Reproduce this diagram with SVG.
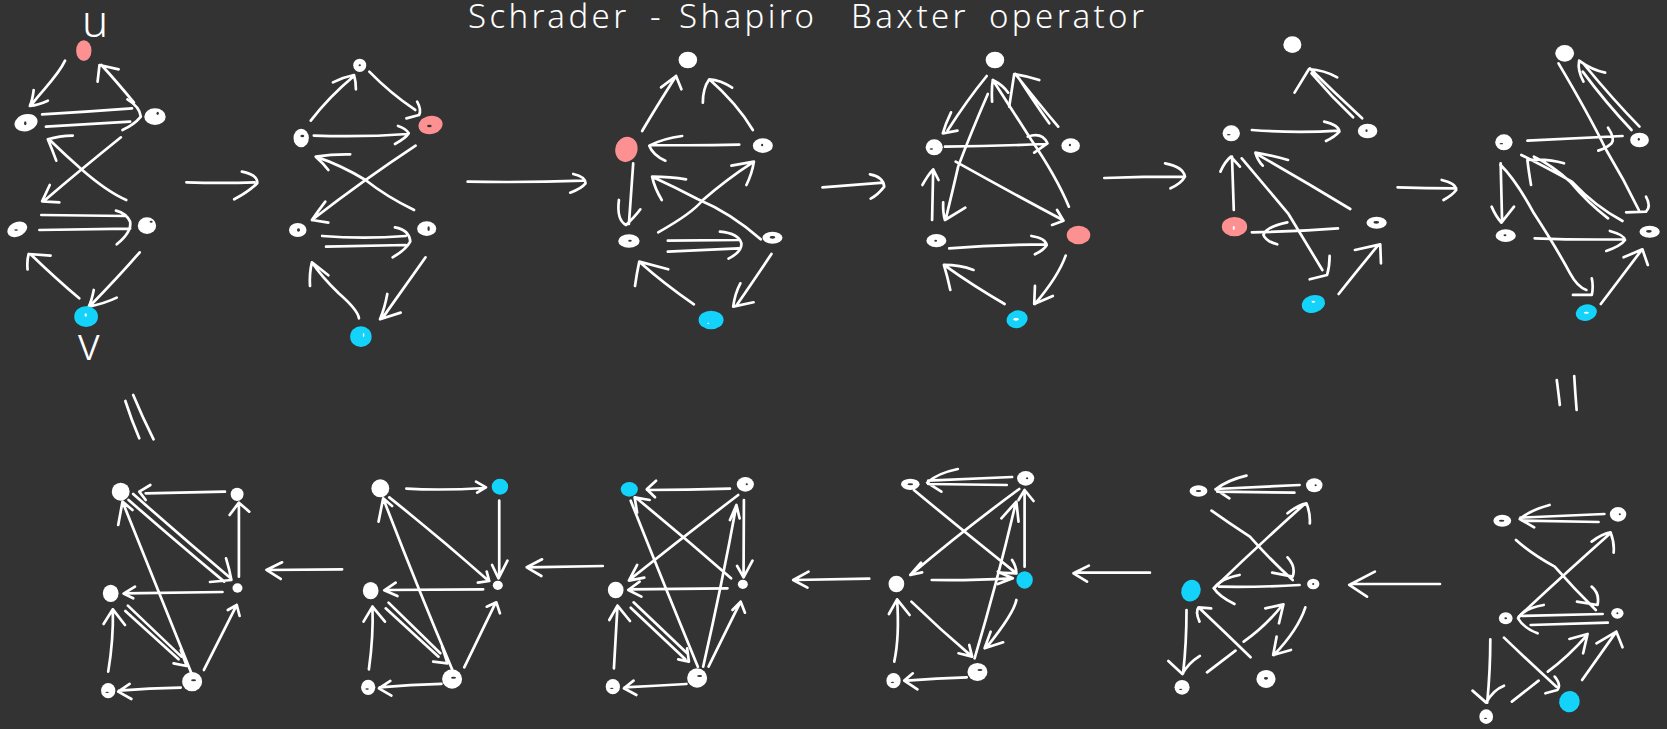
<svg xmlns="http://www.w3.org/2000/svg" width="1667" height="729" viewBox="0 0 1667 729">
<style>
.c path{fill:none;stroke:#fff;stroke-width:2.7;stroke-linecap:round;stroke-linejoin:round;vector-effect:non-scaling-stroke}
.n{fill:#fff}.p{fill:#fd9090}.b{fill:#14d3fb}.h{fill:#333}.s{fill:#fff}
.t{font-family:"Noto Sans","Liberation Sans",sans-serif;font-weight:300;fill:#fff}
</style>
<rect width="1667" height="729" fill="#333"/>
<text class="t" y="28" font-size="33" letter-spacing="3.4"><tspan x="468">Schrader</tspan> <tspan x="650">-</tspan> <tspan x="679">Shapiro</tspan> <tspan x="851">Baxter</tspan> <tspan x="989">operator</tspan></text>
<text class="t" x="82" y="37" font-size="44">u</text>
<text class="t" x="78" y="360" font-size="46">v</text>

<g id="p1" transform="scale(.3827,.3333)">
<g id="p1-connectors" class="c">
<path d="M170 182C150 230 115 265 85 310M88 270Q85 300 78 318Q100 315 125 302"/>
<path d="M350 308Q305 245 265 195M255 245L260 195L310 208"/>
<path d="M110 343Q230 335 345 325M120 380Q230 372 340 365M333 298Q365 320 368 350Q350 375 320 390"/>
<path d="M316 412Q210 510 118 600M130 555L110 604L155 607"/>
<path d="M330 600Q280 575 215 510Q170 465 128 418M147 482Q135 445 125 418Q155 408 190 407"/>
<path d="M108 645L330 648M103 690L340 686M303 632Q330 640 340 665Q345 695 305 733"/>
<path d="M207 895Q150 840 82 765M72 808Q70 780 75 762L132 767"/>
<path d="M365 757Q310 830 235 918M245 870Q240 900 232 920Q275 910 305 893"/>
<path d="M487 547Q580 550 665 547M632 515Q675 525 672 550Q650 575 612 598"/>
<path d="M812 362Q860 290 925 228M870 247Q895 232 925 225Q930 245 930 268"/>
<path d="M965 215Q1020 280 1085 330M1090 305Q1102 330 1095 345L1062 355"/>
<path d="M820 407Q950 412 1065 402M1040 378Q1060 385 1068 400Q1060 415 1032 432"/>
<path d="M1086 437Q950 540 815 660M850 605Q830 635 815 660L858 668"/>
<path d="M1082 630Q1010 590 955 540Q890 495 825 470M858 510Q845 490 825 470Q870 462 915 463"/>
<path d="M842 708Q950 718 1060 708M852 740L1060 735M1032 682Q1070 690 1072 725Q1060 750 1026 772"/>
<path d="M938 955Q935 930 885 880Q840 830 815 787M810 858Q808 820 815 787L858 826"/>
<path d="M1112 772L1002 950M1012 882Q1005 925 993 958L1047 938"/>
<path d="M1222 545Q1370 548 1525 542M1498 522Q1530 530 1530 550Q1520 565 1490 578"/>
</g>
<g id="p1-u"><ellipse class="p" cx="219" cy="152" rx="20" ry="31"/></g>
<g id="p1-a"><ellipse class="n" cx="68" cy="368" rx="31" ry="25" transform="rotate(-25 68 368)"/><ellipse class="h" cx="66" cy="370" rx="3" ry="6"/></g>
<g id="p1-b"><ellipse class="n" cx="405" cy="350" rx="28" ry="25"/><ellipse class="h" cx="412" cy="340" rx="3" ry="5"/></g>
<g id="p1-c"><ellipse class="n" cx="45" cy="688" rx="28" ry="21" transform="rotate(-35 45 688)"/><ellipse class="h" cx="42" cy="690" rx="5" ry="2"/></g>
<g id="p1-d"><ellipse class="n" cx="384" cy="677" rx="24" ry="25"/><ellipse class="h" cx="395" cy="665" rx="4" ry="3"/></g>
<g id="p1-v"><ellipse class="b" cx="225" cy="950" rx="31" ry="31"/><ellipse class="s" cx="224" cy="945" rx="3" ry="5"/></g>
<g id="p2-a"><ellipse class="n" cx="940" cy="196" rx="17" ry="20"/><ellipse class="h" cx="940" cy="196" rx="3" ry="3"/></g>
<g id="p2-b"><ellipse class="p" cx="1125" cy="375" rx="32" ry="27" transform="rotate(-20 1125 375)"/><ellipse class="h" cx="1122" cy="378" rx="6" ry="4"/></g>
<g id="p2-c"><ellipse class="n" cx="787" cy="414" rx="20" ry="28"/><ellipse class="h" cx="790" cy="408" rx="5" ry="4"/></g>
<g id="p2-d"><ellipse class="n" cx="778" cy="690" rx="23" ry="21"/><ellipse class="h" cx="780" cy="690" rx="4" ry="5"/></g>
<g id="p2-e"><ellipse class="n" cx="1115" cy="686" rx="25" ry="22"/><ellipse class="h" cx="1120" cy="686" rx="3" ry="7"/></g>
<g id="p2-f"><ellipse class="b" cx="943" cy="1010" rx="28" ry="31"/><ellipse class="s" cx="950" cy="1005" rx="2" ry="6"/></g>
</g>

<g id="p3" transform="translate(560,0) scale(.3571,.3333)">
<g id="p3-connectors" class="c">
<path d="M230 393Q270 320 325 228M283 262L325 228L340 268"/>
<path d="M540 390Q495 310 418 238M400 308Q400 265 418 238Q450 240 482 263"/>
<path d="M502 434Q380 437 255 435M342 408Q290 415 250 437Q260 465 295 482"/>
<path d="M205 490L193 672M165 600Q158 660 185 675Q210 650 225 628"/>
<path d="M275 697Q370 640 400 600Q470 535 540 487M480 497L543 485Q538 520 522 555"/>
<path d="M562 718Q480 640 385 597Q320 560 258 530M285 600Q265 565 258 530Q310 530 353 538"/>
<path d="M302 722L500 720M302 755L500 745M448 695Q500 700 508 730Q510 755 472 776"/>
<path d="M375 913Q290 850 222 785M210 858Q215 820 222 785L303 808"/>
<path d="M592 762Q550 830 495 915M505 850Q490 880 485 920L542 907"/>
<path d="M735 562Q820 555 905 548M868 523Q905 530 908 560Q890 585 870 596"/>
<path d="M1195 228Q1140 300 1085 392M1095 337Q1080 370 1072 400L1113 392"/>
<path d="M1198 282Q1150 400 1115 500Q1100 570 1080 658M1073 607Q1072 640 1078 660L1135 623"/>
<path d="M1425 620Q1390 530 1320 420Q1260 320 1212 240M1210 305Q1208 265 1212 240Q1240 255 1255 278"/>
<path d="M1395 380Q1340 310 1275 222M1370 370Q1330 310 1285 235M1258 320Q1265 270 1272 222Q1310 228 1342 240"/>
<path d="M1078 440Q1220 438 1360 432M1310 410Q1350 395 1365 430Q1345 445 1328 458"/>
<path d="M1042 660L1045 510M1015 555Q1030 525 1045 508L1060 540"/>
<path d="M1108 485Q1250 570 1408 660M1392 630L1410 662L1378 675"/>
<path d="M1090 745Q1220 735 1360 733M1320 708Q1360 715 1363 735Q1355 750 1330 763"/>
<path d="M1245 912Q1160 860 1075 795M1093 870Q1085 830 1075 795Q1120 795 1158 810"/>
<path d="M1416 767Q1395 830 1330 912M1330 858L1328 912L1380 888"/>
</g>
<g id="p3-a"><ellipse class="n" cx="358" cy="180" rx="26" ry="25"/></g>
<g id="p3-b"><ellipse class="p" cx="186" cy="448" rx="31" ry="38" transform="rotate(12 186 448)"/></g>
<g id="p3-c"><ellipse class="n" cx="568" cy="437" rx="28" ry="22"/><ellipse class="h" cx="566" cy="435" rx="3" ry="4"/></g>
<g id="p3-d"><ellipse class="n" cx="193" cy="723" rx="30" ry="20"/><ellipse class="h" cx="196" cy="722" rx="5" ry="3"/></g>
<g id="p3-e"><ellipse class="n" cx="595" cy="713" rx="28" ry="18"/><ellipse class="h" cx="595" cy="712" rx="8" ry="4"/></g>
<g id="p3-f"><ellipse class="b" cx="423" cy="960" rx="35" ry="28"/><ellipse class="s" cx="415" cy="970" rx="3" ry="2"/></g>
<g id="p4-a"><ellipse class="n" cx="1218" cy="180" rx="26" ry="25"/></g>
<g id="p4-b"><ellipse class="n" cx="1048" cy="442" rx="24" ry="24"/><ellipse class="h" cx="1040" cy="447" rx="5" ry="2"/></g>
<g id="p4-c"><ellipse class="n" cx="1430" cy="437" rx="26" ry="22"/><ellipse class="h" cx="1428" cy="435" rx="3" ry="4"/></g>
<g id="p4-d"><ellipse class="n" cx="1054" cy="722" rx="28" ry="20"/><ellipse class="h" cx="1052" cy="722" rx="4" ry="3"/></g>
<g id="p4-e"><ellipse class="p" cx="1452" cy="705" rx="33" ry="28"/></g>
<g id="p4-f"><ellipse class="b" cx="1280" cy="958" rx="30" ry="26" transform="rotate(-25 1280 958)"/><ellipse class="s" cx="1277" cy="958" rx="8" ry="4"/></g>
</g>

<g id="p5" transform="translate(1100,0) scale(.3616,.3333)">
<g id="p5-connectors" class="c">
<path d="M12 534Q120 530 235 530M180 490Q230 500 235 530Q225 550 195 565"/>
<path d="M725 355Q650 280 580 205M700 352Q640 290 585 220M538 278L578 207Q620 210 656 232"/>
<path d="M420 390Q540 400 660 392M620 365Q660 375 662 395Q650 410 625 423"/>
<path d="M370 630L365 470M333 515Q345 485 362 470L387 500"/>
<path d="M692 627Q560 540 430 460M520 480Q470 465 430 458Q435 480 450 497"/>
<path d="M392 475Q450 550 520 640Q570 730 615 810M635 768Q635 800 628 825L580 838"/>
<path d="M658 685Q540 695 420 697M518 667Q460 680 452 705Q460 725 490 733"/>
<path d="M660 882Q720 800 770 735M705 750L775 733L777 790"/>
<path d="M823 562Q900 565 985 565M945 540Q985 550 985 570Q975 585 950 600"/>
<path d="M1268 190Q1350 340 1400 450Q1450 540 1490 630M1510 590Q1525 620 1510 635L1455 637"/>
<path d="M1492 380Q1420 300 1340 195M1470 390Q1400 310 1335 215M1337 245Q1320 210 1325 182Q1360 210 1397 218"/>
<path d="M1182 422Q1320 415 1445 408M1405 383Q1425 415 1415 430Q1400 445 1378 452"/>
<path d="M1108 490L1112 665M1083 620Q1095 650 1110 668L1145 620"/>
<path d="M1445 663Q1370 620 1305 545Q1230 500 1165 465M1405 655Q1350 610 1300 545Q1250 495 1200 470M1192 555Q1185 510 1182 480Q1240 475 1283 490"/>
<path d="M1108 495Q1150 540 1200 640Q1260 740 1300 820Q1320 860 1345 870M1360 835Q1365 860 1360 885L1308 885"/>
<path d="M1202 715Q1320 720 1450 718M1410 693Q1450 705 1452 720Q1440 738 1400 753"/>
<path d="M1385 912L1498 750M1448 772L1500 748L1515 795"/>
</g>
<g id="p5-a"><ellipse class="n" cx="532" cy="134" rx="25" ry="25"/></g>
<g id="p5-b"><ellipse class="n" cx="363" cy="400" rx="24" ry="24"/><ellipse class="h" cx="356" cy="404" rx="5" ry="2"/></g>
<g id="p5-c"><ellipse class="n" cx="740" cy="393" rx="27" ry="22"/><ellipse class="h" cx="737" cy="392" rx="3" ry="4"/></g>
<g id="p5-d"><ellipse class="p" cx="372" cy="680" rx="35" ry="29"/><ellipse class="s" cx="370" cy="684" rx="3" ry="6"/></g>
<g id="p5-e"><ellipse class="n" cx="765" cy="668" rx="28" ry="18"/><ellipse class="h" cx="764" cy="667" rx="8" ry="4"/></g>
<g id="p5-f"><ellipse class="b" cx="590" cy="912" rx="33" ry="26" transform="rotate(-20 590 912)"/><ellipse class="s" cx="590" cy="905" rx="5" ry="3"/></g>
<g id="p6-a"><ellipse class="n" cx="1285" cy="160" rx="26" ry="25"/></g>
<g id="p6-b"><ellipse class="n" cx="1117" cy="427" rx="24" ry="24"/><ellipse class="h" cx="1110" cy="431" rx="5" ry="2"/></g>
<g id="p6-c"><ellipse class="n" cx="1492" cy="420" rx="26" ry="22"/><ellipse class="h" cx="1490" cy="418" rx="3" ry="4"/></g>
<g id="p6-d"><ellipse class="n" cx="1122" cy="707" rx="28" ry="19"/><ellipse class="h" cx="1120" cy="706" rx="4" ry="3"/></g>
<g id="p6-e"><ellipse class="n" cx="1520" cy="695" rx="28" ry="18"/><ellipse class="h" cx="1518" cy="694" rx="8" ry="4"/></g>
<g id="p6-f"><ellipse class="b" cx="1345" cy="938" rx="30" ry="24" transform="rotate(-20 1345 938)"/><ellipse class="s" cx="1345" cy="938" rx="7" ry="3"/></g>
</g>

<g id="p7" transform="translate(1130,370) scale(.3425,.3333)">
<g id="p7-connectors" class="c">
<path d="M1385 432L1140 443M1368 456L1145 452M1225 405Q1170 420 1138 447L1180 472"/>
<path d="M1127 510Q1170 550 1240 590Q1300 660 1360 720M1348 650Q1372 670 1365 705L1305 695"/>
<path d="M1135 740Q1260 620 1400 492M1348 515Q1380 490 1403 487Q1415 520 1412 548"/>
<path d="M1380 732L1145 738M1395 758L1170 765M1208 705Q1150 715 1133 745Q1150 775 1190 790"/>
<path d="M1052 808Q1052 900 1043 998M1000 962L1040 998Q1060 960 1092 947"/>
<path d="M1092 803Q1170 880 1245 950M1240 920Q1260 945 1248 960L1213 970"/>
<path d="M1115 995L1193 932M1220 905Q1280 860 1335 795M1283 807L1336 792L1323 850"/>
<path d="M1320 930L1420 785M1362 820L1420 785L1438 832"/>
<path d="M1246 30Q1250 60 1255 105M1297 18Q1300 70 1304 120"/>
<path d="M905 642L645 642M715 605L640 645L692 680"/>
<path d="M495 345L250 357M480 368L255 365M340 317Q285 330 250 358L290 385"/>
<path d="M238 422Q290 460 350 500Q410 570 475 630M460 562Q485 590 475 620L415 608"/>
<path d="M245 655Q370 530 510 402M460 430Q490 405 515 400Q527 430 525 460"/>
<path d="M495 645Q380 652 260 650M320 615Q265 625 245 655Q260 680 305 702"/>
<path d="M165 720Q165 820 155 910M112 873L153 912Q170 880 204 858"/>
<path d="M352 862Q280 790 203 715M203 755Q190 725 200 712L237 715"/>
<path d="M225 907L308 842M332 815Q395 770 445 705M395 715L448 703L435 760"/>
<path d="M512 712Q490 780 420 855M428 800L418 855L470 840"/>
</g>
<g id="p7-a"><ellipse class="n" cx="1087" cy="452" rx="26" ry="18"/><ellipse class="h" cx="1085" cy="452" rx="8" ry="3"/></g>
<g id="p7-b"><ellipse class="n" cx="1425" cy="433" rx="24" ry="22"/><ellipse class="h" cx="1430" cy="433" rx="3" ry="3"/></g>
<g id="p7-c"><ellipse class="n" cx="1097" cy="745" rx="20" ry="18"/><ellipse class="h" cx="1097" cy="745" rx="4" ry="3"/></g>
<g id="p7-d"><ellipse class="n" cx="1423" cy="730" rx="18" ry="16"/><ellipse class="h" cx="1423" cy="730" rx="3" ry="3"/></g>
<g id="p7-e"><ellipse class="n" cx="1040" cy="1040" rx="20" ry="22"/><ellipse class="h" cx="1038" cy="1045" rx="5" ry="2"/></g>
<g id="p7-f"><ellipse class="b" cx="1283" cy="995" rx="30" ry="32" transform="rotate(15 1283 995)"/></g>
<g id="p8-a"><ellipse class="n" cx="200" cy="363" rx="26" ry="17"/><ellipse class="h" cx="200" cy="363" rx="8" ry="3"/></g>
<g id="p8-b"><ellipse class="n" cx="538" cy="346" rx="24" ry="21"/><ellipse class="h" cx="542" cy="346" rx="3" ry="3"/></g>
<g id="p8-c"><ellipse class="b" cx="178" cy="662" rx="28" ry="33" transform="rotate(15 178 662)"/></g>
<g id="p8-d"><ellipse class="n" cx="535" cy="642" rx="18" ry="16"/><ellipse class="h" cx="535" cy="642" rx="3" ry="3"/></g>
<g id="p8-e"><ellipse class="n" cx="152" cy="952" rx="22" ry="22"/><ellipse class="h" cx="148" cy="958" rx="5" ry="2"/></g>
<g id="p8-f"><ellipse class="n" cx="397" cy="927" rx="28" ry="27"/><ellipse class="h" cx="397" cy="925" rx="6" ry="4"/></g>
</g>

<g id="p9" transform="translate(580,440) scale(.3571,.3333)">
<g id="p9-connectors" class="c">
<path d="M1596 398L1385 398M1425 377L1382 400L1420 425"/>
<path d="M1210 111L975 122M1195 135L975 132M1058 87Q1000 100 972 128L1012 155"/>
<path d="M935 150Q1070 270 1222 400M1210 360Q1222 380 1222 400L1172 398"/>
<path d="M1230 147Q1080 265 925 405M955 368L925 405L958 397"/>
<path d="M1245 380L1245 150M1228 180L1245 150L1270 183"/>
<path d="M1105 655Q1170 420 1220 190M1180 235L1222 185L1228 245"/>
<path d="M985 420Q1090 422 1210 415M1170 395L1212 415L1170 432"/>
<path d="M1222 480Q1215 520 1140 620M1150 575L1133 625L1185 607"/>
<path d="M928 485Q1010 570 1098 650M1090 615L1098 650L1060 640"/>
<path d="M880 665Q895 590 888 478M865 522L888 478L923 525"/>
<path d="M1083 712Q1000 715 915 722M932 700L908 722L945 748"/>
<path d="M810 416L600 420M640 395L597 420L637 443"/>
<path d="M420 146Q300 150 188 150M213 122L187 148L210 172"/>
<path d="M423 415Q290 290 155 172M160 218L153 172L195 180"/>
<path d="M142 182Q230 420 330 680"/>
<path d="M443 165Q290 290 138 420M160 375L137 422L180 413"/>
<path d="M459 180L458 412M440 378L458 412L483 362"/>
<path d="M345 680Q400 420 438 195M420 240L438 195L447 235"/>
<path d="M360 680Q410 570 450 485M427 510L450 485L462 518"/>
<path d="M413 445L137 448M167 425L135 450L172 470"/>
<path d="M150 487L300 640M142 503L295 658M300 625L305 665L275 658"/>
<path d="M95 685Q100 590 105 497M82 540L105 497L140 543"/>
<path d="M298 732Q210 738 125 742M150 722L123 745L158 765"/>
</g>
<g id="p9-a"><ellipse class="n" cx="925" cy="133" rx="26" ry="17"/><ellipse class="h" cx="925" cy="133" rx="8" ry="3"/></g>
<g id="p9-b"><ellipse class="n" cx="1248" cy="115" rx="24" ry="22"/><ellipse class="h" cx="1252" cy="115" rx="3" ry="3"/></g>
<g id="p9-c"><ellipse class="n" cx="886" cy="432" rx="22" ry="25"/></g>
<g id="p9-d"><ellipse class="b" cx="1245" cy="420" rx="23" ry="26"/></g>
<g id="p9-e"><ellipse class="n" cx="878" cy="722" rx="20" ry="23"/><ellipse class="h" cx="875" cy="727" rx="5" ry="2"/></g>
<g id="p9-f"><ellipse class="n" cx="1113" cy="696" rx="28" ry="27"/><ellipse class="h" cx="1120" cy="690" rx="7" ry="3"/></g>
<g id="p10-a"><ellipse class="b" cx="138" cy="148" rx="24" ry="22"/></g>
<g id="p10-b"><ellipse class="n" cx="463" cy="133" rx="24" ry="22"/><ellipse class="h" cx="467" cy="133" rx="3" ry="3"/></g>
<g id="p10-c"><ellipse class="n" cx="100" cy="450" rx="22" ry="25"/></g>
<g id="p10-d"><ellipse class="n" cx="456" cy="433" rx="14" ry="14"/></g>
<g id="p10-e"><ellipse class="n" cx="92" cy="740" rx="20" ry="23"/><ellipse class="h" cx="89" cy="745" rx="5" ry="2"/></g>
<g id="p10-f"><ellipse class="n" cx="328" cy="714" rx="28" ry="29"/><ellipse class="h" cx="335" cy="708" rx="7" ry="3"/></g>
</g>

<g id="p11" transform="translate(60,380) scale(.3571,.3333)">
<g id="p11-connectors" class="c">
<path d="M970 326Q1070 332 1190 324M1165 305L1193 322L1168 338"/>
<path d="M1230 362L1230 590M1210 555L1228 595L1253 542"/>
<path d="M922 352Q1060 470 1200 602M1195 575L1202 603L1170 608"/>
<path d="M1098 868Q1000 620 905 355M892 425L905 355L930 378"/>
<path d="M1185 628L912 630M940 608L908 631L945 648"/>
<path d="M920 668L1065 820M912 685L1060 830M1045 845L1085 850L1070 800"/>
<path d="M1132 862L1220 668M1195 680L1222 667L1232 700"/>
<path d="M865 868Q878 770 875 680M850 725L875 680L910 725"/>
<path d="M1068 912Q980 915 895 922M925 903L893 925L928 947"/>
<path d="M1520 558L1310 562M1350 538L1307 562L1348 588"/>
<path d="M462 335Q350 338 240 340M253 315L222 335L240 360"/>
<path d="M501 590L501 370M475 405L501 368L530 395"/>
<path d="M205 342Q340 470 478 595M192 360Q320 480 460 605M465 535Q475 570 480 600L420 606"/>
<path d="M368 880Q270 620 175 365M163 435L175 365L203 390"/>
<path d="M455 636L180 640M210 620L178 641L205 655"/>
<path d="M190 677L340 830M183 693L332 838M318 850L355 858L338 810"/>
<path d="M403 870L495 675M470 690L495 675L503 708"/>
<path d="M135 875Q150 780 148 688M122 732L148 688L182 735"/>
<path d="M338 923Q250 925 165 932M195 912L163 935L200 957"/>
<path d="M790 568L580 570M622 547L578 570L618 597"/>
<path d="M183 63Q200 120 222 175M205 45Q230 110 262 178"/>
</g>
<g id="p11-a"><ellipse class="n" cx="897" cy="325" rx="25" ry="27"/></g>
<g id="p11-b"><ellipse class="b" cx="1232" cy="320" rx="23" ry="24"/></g>
<g id="p11-c"><ellipse class="n" cx="870" cy="632" rx="22" ry="26"/></g>
<g id="p11-d"><ellipse class="n" cx="1226" cy="616" rx="14" ry="14"/></g>
<g id="p11-e"><ellipse class="n" cx="863" cy="922" rx="20" ry="23"/><ellipse class="h" cx="860" cy="927" rx="5" ry="2"/></g>
<g id="p11-f"><ellipse class="n" cx="1098" cy="897" rx="28" ry="29"/><ellipse class="h" cx="1102" cy="893" rx="7" ry="3"/></g>
<g id="p12-a"><ellipse class="n" cx="170" cy="335" rx="25" ry="27"/></g>
<g id="p12-b"><ellipse class="n" cx="496" cy="343" rx="18" ry="20"/></g>
<g id="p12-c"><ellipse class="n" cx="142" cy="640" rx="22" ry="26"/></g>
<g id="p12-d"><ellipse class="n" cx="497" cy="624" rx="14" ry="14"/></g>
<g id="p12-e"><ellipse class="n" cx="135" cy="932" rx="20" ry="23"/><ellipse class="h" cx="132" cy="937" rx="5" ry="2"/></g>
<g id="p12-f"><ellipse class="n" cx="370" cy="905" rx="28" ry="29"/><ellipse class="h" cx="374" cy="901" rx="7" ry="3"/></g>
</g>
</svg>
